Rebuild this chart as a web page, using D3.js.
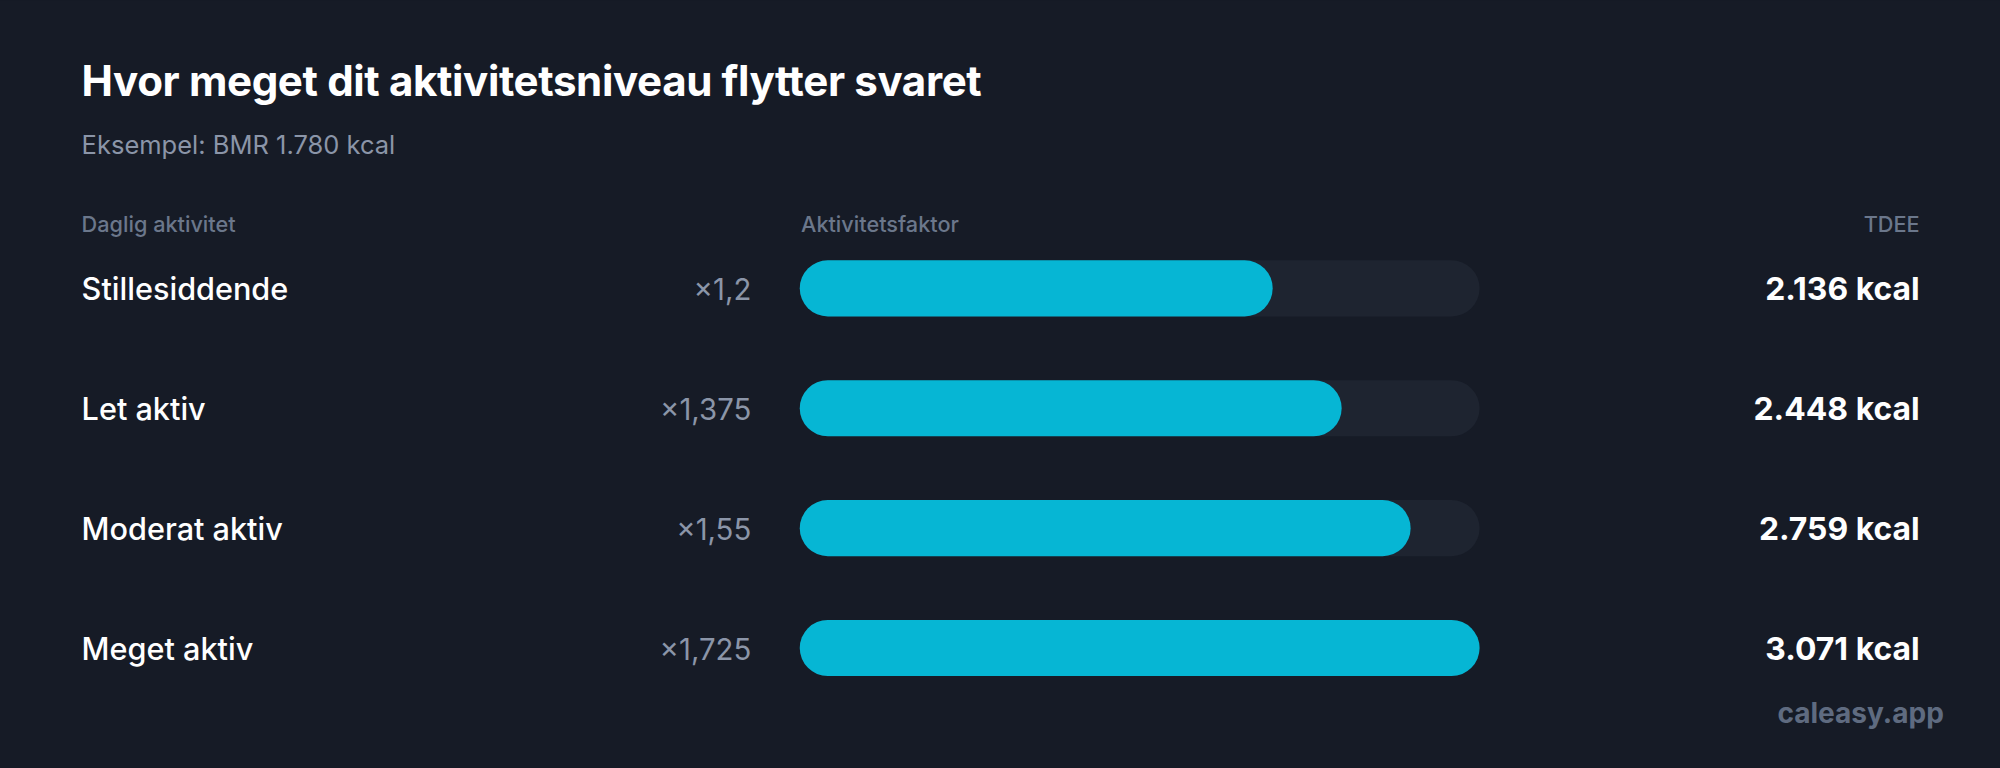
<!DOCTYPE html>
<html><head><meta charset="utf-8">
<script src="https://cdn.jsdelivr.net/npm/d3@7"></script>
<style>html,body{margin:0;padding:0;background:#161b26;overflow:hidden}</style>
</head><body>
<svg id="c" width="2000" height="768" viewBox="0 0 1568 602"></svg>
<script>
const categories = ["Stillesiddende","Let aktiv","Moderat aktiv","Meget aktiv"];
const factors = [1.2, 1.375, 1.55, 1.725];
const factorLabels = ["×1,2","×1,375","×1,55","×1,725"];
const tdeeLabels = ["2.136 kcal","2.448 kcal","2.759 kcal","3.071 kcal"];

const svg = d3.select("#c");
const F = "Inter, 'Noto Sans', sans-serif";
svg.append("rect").attr("width",1568).attr("height",602).attr("fill","#161b26");
svg.append("text").attr("x",64).attr("y",75).attr("fill","#fff").attr("font-family",F)
  .attr("font-size",33).attr("font-weight",700).attr("letter-spacing",-0.3).text("Hvor meget dit aktivitetsniveau flytter svaret");
svg.append("text").attr("x",64).attr("y",121).attr("fill","#8b95a8").attr("font-family",F)
  .attr("font-size",20).text("Eksempel: BMR 1.780 kcal");
const hdr = (x,t,a)=>svg.append("text").attr("x",x).attr("y",182).attr("fill","#6b778b").attr("font-family",F)
  .attr("font-size",17).attr("font-weight",500).attr("text-anchor",a).text(t);
hdr(64,"Daglig aktivitet","start"); hdr(628,"Aktivitetsfaktor","start"); hdr(1505,"TDEE","end");

const y = d3.scalePoint().domain(categories).range([226,508]);
const x = d3.scaleLinear().domain([0,d3.max(factors)]).range([627,1160]);
const h = 44;
const g = svg.selectAll("g.row").data(categories).join("g").attr("class","row");
g.append("rect").attr("x",x(0)).attr("y",d=>y(d)-h/2).attr("width",x.range()[1]-x(0)).attr("height",h)
  .attr("rx",h/2).attr("fill","#1e2430");
g.append("rect").attr("x",x(0)).attr("y",d=>y(d)-h/2).attr("width",(d,i)=>x(factors[i])-x(0)).attr("height",h)
  .attr("rx",h/2).attr("fill","#06b6d4");
g.append("text").attr("x",64).attr("y",d=>y(d)+9).attr("fill","#fff").attr("font-family",F)
  .attr("font-size",24).attr("font-weight",500).text(d=>d);
g.append("text").attr("x",589).attr("y",d=>y(d)+9).attr("fill","#8b95a8").attr("font-family",F)
  .attr("font-size",23).attr("text-anchor","end").text((d,i)=>factorLabels[i]);
g.append("text").attr("x",1505).attr("y",d=>y(d)+9).attr("fill","#fff").attr("font-family",F)
  .attr("font-size",25).attr("font-weight",700).attr("text-anchor","end").text((d,i)=>tdeeLabels[i]);
svg.append("text").attr("x",1524).attr("y",567).attr("fill","#5f6b80").attr("font-family",F)
  .attr("font-size",22).attr("font-weight",700).attr("text-anchor","end").text("caleasy.app");
</script>
</body></html>
